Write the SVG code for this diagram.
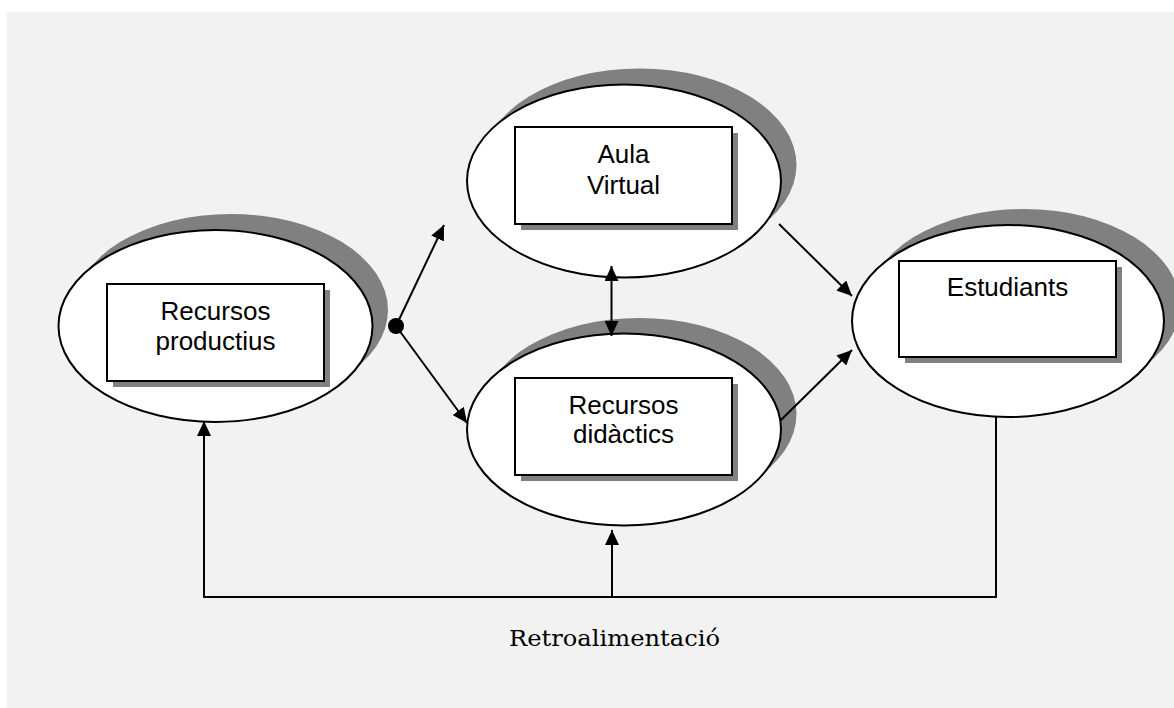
<svg xmlns="http://www.w3.org/2000/svg" width="1174" height="708" viewBox="0 0 1174 708">
  <style>
    .shadow { fill: #808080; stroke: none; }
    .oval { fill: #ffffff; stroke: #000000; stroke-width: 2; }
    .box { fill: #ffffff; stroke: #000000; stroke-width: 2; }
    .label { font-family: "Liberation Sans", Arial, sans-serif; font-size: 26px; fill: #000000; text-anchor: middle; }
    .wire { fill: none; stroke: #000000; stroke-width: 2; }
    .caption { font-family: "DejaVu Serif", "Liberation Serif", serif; font-size: 23px; fill: #000000; }
  </style>
  <defs>
    <marker id="head" viewBox="0 0 15 14" refX="15" refY="7" markerWidth="15" markerHeight="14" markerUnits="userSpaceOnUse" orient="auto-start-reverse">
      <path d="M0,0 L15,7 L0,14 z" fill="#000000"/>
    </marker>
  </defs>

  <!-- background panel -->
  <rect x="7" y="12" width="1167" height="696" fill="#f2f2f2"/>

  <!-- Recursos productius -->
  <g id="recursos-productius">
    <ellipse class="shadow" cx="231" cy="310" rx="157" ry="96"/>
    <ellipse class="oval" cx="215.5" cy="326" rx="157" ry="96"/>
    <rect class="shadow" x="113" y="290" width="217" height="97"/>
    <rect class="box" x="107" y="284" width="217" height="97"/>
    <text class="label" x="215.5" y="320">Recursos</text>
    <text class="label" x="215.5" y="350">productius</text>
  </g>

  <!-- Aula Virtual -->
  <g id="aula-virtual">
    <ellipse class="shadow" cx="639.5" cy="165" rx="157" ry="96.5"/>
    <ellipse class="oval" cx="624" cy="181" rx="157" ry="96.5"/>
    <rect class="shadow" x="521" y="133" width="217" height="97"/>
    <rect class="box" x="515" y="127" width="217" height="97"/>
    <text class="label" x="623.5" y="163">Aula</text>
    <text class="label" x="623.5" y="194">Virtual</text>
  </g>

  <!-- Recursos didàctics -->
  <g id="recursos-didactics">
    <ellipse class="shadow" cx="639.5" cy="414" rx="157" ry="96"/>
    <ellipse class="oval" cx="624" cy="429.5" rx="157" ry="96"/>
    <rect class="shadow" x="521" y="384" width="217" height="97"/>
    <rect class="box" x="515" y="378" width="217" height="97"/>
    <text class="label" x="623.5" y="414">Recursos</text>
    <text class="label" x="623.5" y="443">didàctics</text>
  </g>

  <!-- Estudiants -->
  <g id="estudiants">
    <ellipse class="shadow" cx="1024" cy="305" rx="156" ry="96"/>
    <ellipse class="oval" cx="1008" cy="321" rx="156" ry="96"/>
    <rect class="shadow" x="905" y="267" width="217" height="96"/>
    <rect class="box" x="899" y="261" width="217" height="96"/>
    <text class="label" x="1007.5" y="296">Estudiants</text>
  </g>

  <!-- connectors -->
  <g id="connectors">
    <circle cx="396" cy="326" r="8" fill="#000000"/>
    <line class="wire" x1="396" y1="326" x2="444" y2="225" marker-end="url(#head)"/>
    <line class="wire" x1="396" y1="326" x2="467" y2="423" marker-end="url(#head)"/>
    <line class="wire" x1="611.5" y1="266" x2="611.5" y2="336" marker-start="url(#head)" marker-end="url(#head)"/>
    <line class="wire" x1="779" y1="224" x2="852" y2="296" marker-end="url(#head)"/>
    <line class="wire" x1="780" y1="421" x2="852" y2="350" marker-end="url(#head)"/>
    <!-- feedback loop -->
    <path class="wire" d="M996,417 V597 H204 V421" marker-end="url(#head)"/>
    <line class="wire" x1="612" y1="597" x2="612" y2="530" marker-end="url(#head)"/>
    <text class="caption" x="509" y="646" textLength="211" lengthAdjust="spacingAndGlyphs">Retroalimentació</text>
  </g>
</svg>
